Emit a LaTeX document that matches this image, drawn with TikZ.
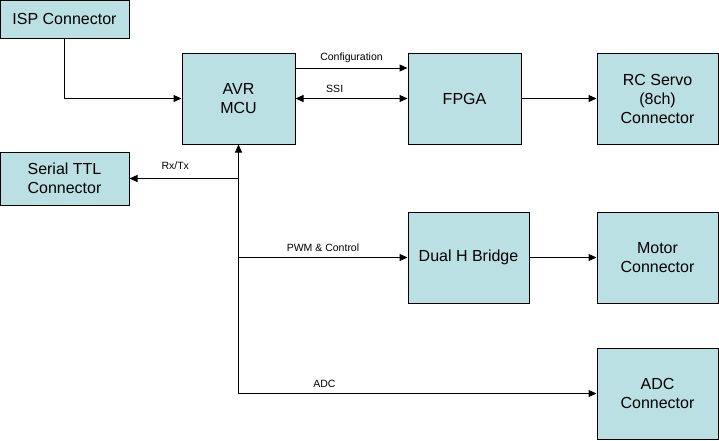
\documentclass[tikz,border=0pt]{standalone}
\usepackage{fontspec}
\setmainfont{Liberation Sans}
\usetikzlibrary{arrows.meta}

\begin{document}
\begin{tikzpicture}[
      x=1pt, y=-1pt,
      >={Triangle[length=8pt,width=7pt]},
      every path/.style={line width=1pt},
      block/.style={rectangle, draw, fill=boxfill, align=center,
        font=\fontsize{16}{19}\selectfont, inner sep=0pt},
      lbl/.style={font=\fontsize{10.5}{12}\selectfont, above=5pt, inner sep=0pt}
    ]
    \definecolor{boxfill}{HTML}{BBE0E3}
    \useasboundingbox (0,0) rectangle (719,440);
    % Blocos
    \node[block, minimum width=129pt, minimum height=38pt] (isp) at (64.5,19) {ISP Connector};
    \node[block, minimum width=113pt, minimum height=91pt] (avr) at (238.5,98.5) {AVR\\MCU};
    \node[block, minimum width=113pt, minimum height=91pt] (fpga) at (464.5,98.5) {FPGA};
    \node[block, minimum width=121pt, minimum height=91pt] (servo) at (657.5,98.5) {RC Servo\\(8ch)\\Connector};
    \node[block, minimum width=129pt, minimum height=53pt] (serial) at (64.5,178.5) {Serial TTL\\Connector};
    \node[block, minimum width=121pt, minimum height=91pt] (hbridge) at (468.5,257.5) {Dual H Bridge};
    \node[block, minimum width=121pt, minimum height=91pt] (motor) at (657.5,257.5) {Motor\\Connector};
    \node[block, minimum width=121pt, minimum height=91pt] (adc) at (657.5,393.5) {ADC\\Connector};
    % Barramento
    \coordinate (bus) at (238.5,393.5);
    \coordinate (rx) at (238.5,178.5);
    \coordinate (pwm) at (238.5,257.5);
    % Ligações
    \draw[->] (isp.south) |- (avr.west);
    \draw[->] ([yshift=30.5pt]avr.east) -- node[lbl] {Configuration} ([yshift=30.5pt]fpga.west);
    \draw[<->] (avr.east) -- node[lbl, pos=0.35] {SSI} (fpga.west);
    \draw[->] (fpga.east) -- (servo.west);
    \draw[->] (bus) -- (avr.south);
    \draw[->] (rx) -- node[lbl, pos=0.58, above=3pt] {Rx/Tx} (serial.east);
    \draw[->] (pwm) -- node[lbl] {PWM \& Control} (hbridge.west);
    \draw[->] (hbridge.east) -- (motor.west);
    \draw[->] (bus) -- node[lbl, pos=0.24] {ADC} (adc.west);
  \end{tikzpicture}
\end{document}
